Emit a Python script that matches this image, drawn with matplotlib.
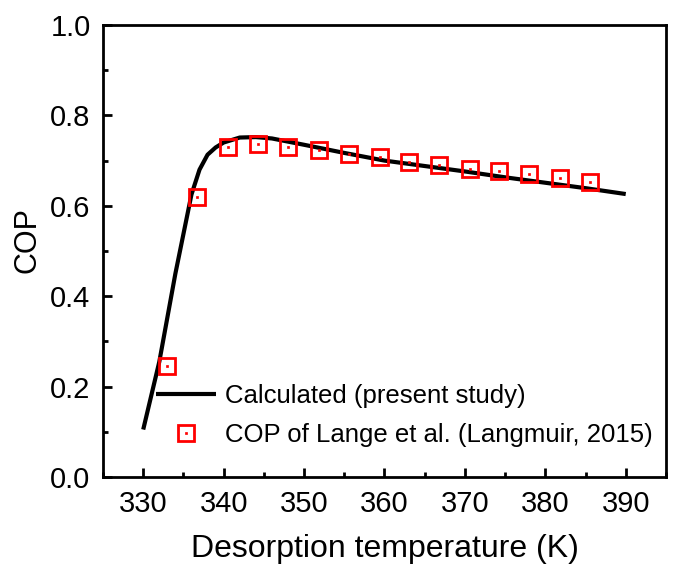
import matplotlib
matplotlib.use("Agg")
from matplotlib import pyplot as plt
from matplotlib.ticker import MultipleLocator
from matplotlib.legend_handler import HandlerTuple

plt.rcParams["font.family"] = ["Liberation Sans", "DejaVu Sans"]

# calculated curve (present study)
temp_calc = [330, 332, 334, 336, 337, 338, 339, 340, 342, 344, 346, 350,
             355, 360, 365, 370, 375, 380, 385, 390]
cop_calc = [0.105, 0.255, 0.45, 0.625, 0.68, 0.713, 0.729, 0.740, 0.751, 0.752,
            0.749, 0.735, 0.717, 0.700, 0.688, 0.676, 0.663, 0.651, 0.639, 0.626]

# Lange et al. (Langmuir, 2015)
temp_lange = [333.0, 336.7, 340.5, 344.3, 348.0, 351.8, 355.6, 359.4, 363.1,
              366.8, 370.6, 374.3, 378.0, 381.8, 385.5]
cop_lange = [0.246, 0.620, 0.731, 0.737, 0.729, 0.723, 0.714, 0.709, 0.698,
             0.690, 0.681, 0.678, 0.670, 0.662, 0.653]

fig = plt.figure(figsize=(6.75, 5.68), dpi=100)
ax = fig.add_axes([0.1526, 0.1602, 0.834, 0.7958])

line, = ax.plot(temp_calc, cop_calc, color="black", lw=3, solid_capstyle="butt",
                zorder=2)
sq, = ax.plot(temp_lange, cop_lange, ls="none", marker="s", ms=11, mfc="none",
              mec="#ff0000", mew=2, zorder=3)
dot, = ax.plot(temp_lange, cop_lange, ls="none", marker="s", ms=1.8,
               mfc="#ff0000", mec="#ff0000", mew=0.5, zorder=3)

ax.set_xlim(325, 395)
ax.set_ylim(0, 1.0)
ax.xaxis.set_major_locator(MultipleLocator(10))
ax.xaxis.set_minor_locator(MultipleLocator(5))
ax.yaxis.set_major_locator(MultipleLocator(0.2))
ax.yaxis.set_minor_locator(MultipleLocator(0.1))
ax.yaxis.set_major_formatter(plt.FuncFormatter(lambda v, p: f"{v:.1f}"))

for s in ax.spines.values():
    s.set_linewidth(2)
ax.tick_params(which="major", direction="in", length=6.5, width=2,
               labelsize=21, pad=9)
ax.tick_params(which="minor", direction="in", length=3.5, width=2)

ax.set_xlabel("Desorption temperature (K)", fontsize=23, labelpad=12)
ax.set_ylabel("COP", fontsize=22)
ax.yaxis.set_label_coords(-0.107, 0.524)

ax.legend([line, (sq, dot)],
          ["Calculated (present study)", "COP of Lange et al. (Langmuir, 2015)"],
          handler_map={tuple: HandlerTuple(ndivide=1, pad=0)},
          loc="lower left", bbox_to_anchor=(0.094, 0.066), borderaxespad=0,
          borderpad=0, frameon=False, fontsize=18.5, handlelength=2.35,
          handletextpad=0.35, labelspacing=0.58)

fig.savefig("out.png", dpi=100)
